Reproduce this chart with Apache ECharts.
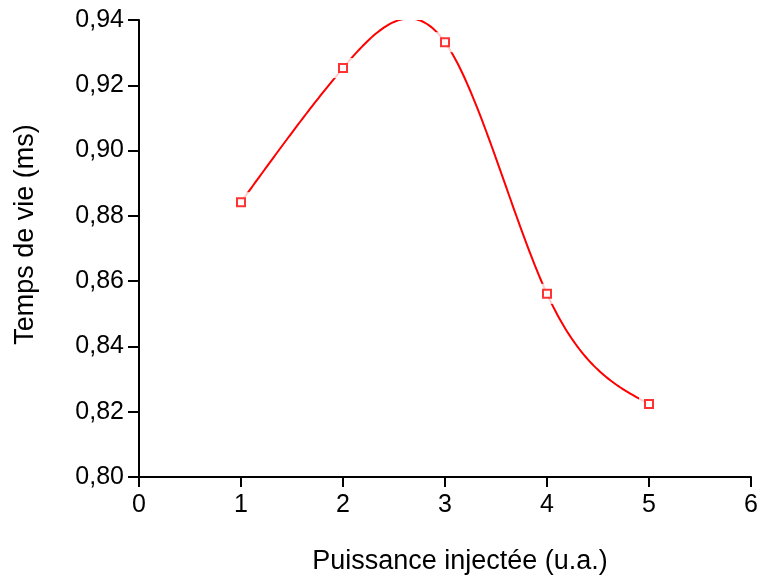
<!DOCTYPE html>
<html>
<head>
<meta charset="utf-8">
<script src="https://cdn.jsdelivr.net/npm/echarts@6/dist/echarts.min.js"></script>
<style>
  html, body { margin: 0; padding: 0; background: #fff; }
  #chart { width: 761px; height: 577px; }
</style>
</head>
<body>
<div id="chart"></div>
<script>
// puissance injectée (u.a.)
const puissance = [1, 2, 3, 4, 5];
// temps de vie (ms)
const tempsVie = [0.8842, 0.9253, 0.9332, 0.8561, 0.8224];

const points = puissance.map((x, i) => [x, tempsVie[i]]);
const fontFamily = "'Liberation Sans', Arial, sans-serif";

// second derivatives of a natural cubic spline through the points
function splineM(xs, ys) {
  const n = xs.length;
  const a = [], b = [], c = [], d = [];
  for (let i = 1; i < n - 1; i++) {
    const h0 = xs[i] - xs[i - 1], h1 = xs[i + 1] - xs[i];
    a.push(h0); b.push(2 * (h0 + h1)); c.push(h1);
    d.push(6 * ((ys[i + 1] - ys[i]) / h1 - (ys[i] - ys[i - 1]) / h0));
  }
  // Thomas algorithm
  const k = b.length;
  for (let i = 1; i < k; i++) {
    const w = a[i] / b[i - 1];
    b[i] -= w * c[i - 1];
    d[i] -= w * d[i - 1];
  }
  const inner = new Array(k);
  for (let i = k - 1; i >= 0; i--) {
    inner[i] = (d[i] - (i < k - 1 ? c[i] * inner[i + 1] : 0)) / b[i];
  }
  return [0, ...inner, 0];
}

function renderCurve(params, api) {
  const M = splineM(puissance, tempsVie);
  const pts = [];
  for (let i = 0; i < puissance.length - 1; i++) {
    const x0 = puissance[i], x1 = puissance[i + 1];
    const y0 = tempsVie[i], y1 = tempsVie[i + 1];
    const h = x1 - x0;
    const steps = 50;
    for (let s = (i === 0 ? 0 : 1); s <= steps; s++) {
      const t = s / steps, u = 1 - t;
      const y = u * y0 + t * y1 +
        ((u * u * u - u) * M[i] + (t * t * t - t) * M[i + 1]) * h * h / 6;
      pts.push(api.coord([x0 + t * h, y]));
    }
  }
  const cs = params.coordSys;
  return {
    type: "group",
    clipPath: { type: "rect", shape: { x: cs.x, y: cs.y, width: cs.width, height: cs.height } },
    children: [{
      type: "polyline",
      shape: { points: pts },
      style: { stroke: "#ff0000", lineWidth: 2, fill: null }
    }]
  };
}

const chart = echarts.init(document.getElementById("chart"));
chart.setOption({
  animation: false,
  grid: { left: 139, right: 10, top: 20, bottom: 100, outerBoundsMode: "none", containLabel: false },
  xAxis: {
    type: "value",
    min: 0,
    max: 6,
    interval: 1,
    name: "Puissance injectée (u.a.)",
    nameLocation: "middle",
    nameGap: 71,
    nameTextStyle: { fontSize: 27, color: "#000", fontFamily, padding: [0, 0, 0, 30] },
    axisLine: { lineStyle: { color: "#000", width: 2 } },
    axisTick: { show: true, length: 10, lineStyle: { color: "#000", width: 2 } },
    axisLabel: { fontSize: 25, color: "#000", fontFamily, margin: 16 },
    splitLine: { show: false }
  },
  yAxis: {
    type: "value",
    min: 0.8,
    max: 0.94,
    interval: 0.02,
    name: "Temps de vie (ms)",
    nameLocation: "middle",
    nameGap: 100,
    nameRotate: 90,
    nameTextStyle: { fontSize: 27, color: "#000", fontFamily, padding: [0, 0, 0, 28] },
    axisLine: { show: true, lineStyle: { color: "#000", width: 2 } },
    axisTick: { show: true, length: 11, lineStyle: { color: "#000", width: 2 } },
    axisLabel: {
      fontSize: 25, color: "#000", fontFamily, margin: 15,
      formatter: v => v.toFixed(2).replace(".", ",")
    },
    splitLine: { show: false }
  },
  series: [
    {
      type: "custom",
      renderItem: renderCurve,
      data: [points[0]],
      silent: true,
      z: 2
    },
    {
      // white mask making the gap round each marker
      type: "scatter",
      data: points,
      symbol: "rect",
      symbolSize: 20,
      itemStyle: { color: "#fff", borderWidth: 0 },
      silent: true,
      z: 3
    },
    {
      type: "scatter",
      data: points,
      symbol: "rect",
      symbolSize: 8,
      itemStyle: { color: "#fff", borderColor: "#ff0000", borderWidth: 2 },
      z: 4
    }
  ]
});
</script>
</body>
</html>
